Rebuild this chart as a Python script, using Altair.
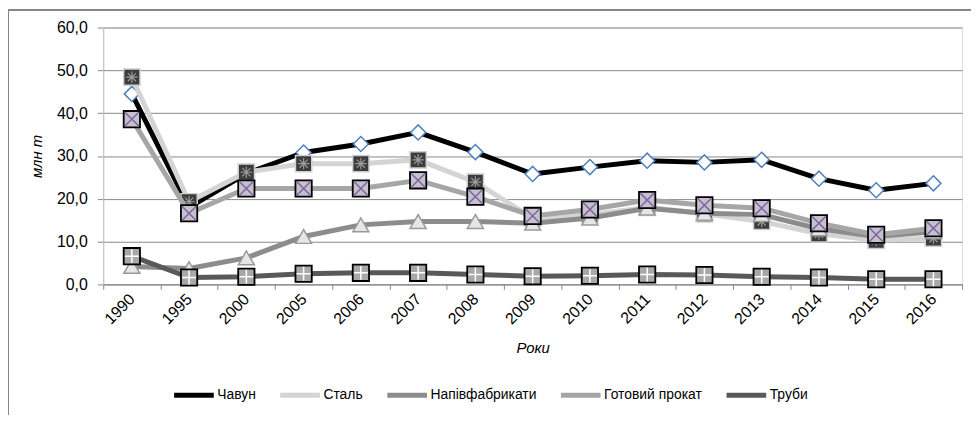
import altair as alt
import pandas as pd

years = ["1990", "1995", "2000", "2005", "2006", "2007", "2008", "2009",
         "2010", "2011", "2012", "2013", "2014", "2015", "2016"]
series_names = ["Чавун", "Сталь", "Напівфабрикати", "Готовий прокат", "Труби"]

chavun = [44.5, 18.0, 25.9, 30.8, 32.8, 35.5, 30.9, 25.8, 27.4, 28.9, 28.5, 29.1, 24.7, 22.0, 23.6]
stal = [48.4, 19.3, 26.2, 28.2, 28.2, 29.1, 23.9, 15.5, 16.3, 18.0, 16.5, 14.7, 11.8, 10.3, 10.8]
napiv = [4.2, 3.7, 6.2, 11.2, 13.9, 14.7, 14.7, 14.3, 15.5, 17.8, 16.6, 16.3, 13.0, 11.2, 12.3]
gotovyi = [38.6, 16.6, 22.4, 22.4, 22.4, 24.3, 20.5, 16.0, 17.5, 19.7, 18.5, 17.8, 14.3, 11.6, 13.1]
truby = [6.6, 1.6, 1.8, 2.5, 2.7, 2.7, 2.3, 1.9, 2.0, 2.3, 2.2, 1.8, 1.6, 1.2, 1.2]

values = [chavun, stal, napiv, gotovyi, truby]
line_colors = ["#000000", "#d4d4d4", "#8c8c8c", "#a6a6a6", "#595959"]

FONT = "Liberation Sans, Arial, sans-serif"

rows = []
for name, vals in zip(series_names, values):
    for y, v in zip(years, vals):
        rows.append({"year": y, "value": v, "series": name})
df = pd.DataFrame(rows)

x_enc = alt.X(
    "year:O",
    scale=alt.Scale(type="band", domain=years, paddingInner=0, paddingOuter=0),
    axis=alt.Axis(
        title="Роки", titleFont=FONT, titleFontSize=15, titleFontStyle="italic",
        titleFontWeight="normal", titleColor="#000", titlePadding=14,
        labelAngle=-45, labelAlign="right", labelBaseline="middle",
        labelFont=FONT, labelFontSize=16, labelColor="#000", labelPadding=7,
        tickBand="extent", tickSize=5, tickColor="#888", domainColor="#888",
        grid=False,
    ),
)
y_enc = alt.Y(
    "value:Q",
    scale=alt.Scale(domain=[0, 60], nice=False),
    axis=alt.Axis(
        title="млн т", titleFont=FONT, titleFontSize=15, titleFontStyle="italic",
        titleFontWeight="normal", titleColor="#000", titlePadding=12,
        values=[0, 10, 20, 30, 40, 50, 60],
        labelExpr="replace(format(datum.value, '.1f'), '.', ',')",
        labelFont=FONT, labelFontSize=16, labelColor="#000", labelPadding=10,
        tickSize=6, tickColor="#888", domainColor="#c0c0c0",
        grid=True, gridColor="#888", gridWidth=1,
    ),
)

color_scale = alt.Scale(domain=series_names, range=line_colors)

marker_styles = {
    "Чавун": [dict(shape="diamond", size=230, fill="#ffffff", stroke="#4f81bd", strokeWidth=1.5)],
    "Сталь": [dict(shape="square", size=270, fill="#3c3c3c", stroke="#cfcfcf", strokeWidth=1.5),
              dict(shape="M-0.5,-0.5L0.5,0.5M0.5,-0.5L-0.5,0.5M0,-0.7L0,0.7M-0.7,0L0.7,0", size=270,
                   fill=None, stroke="#9a9a9a", strokeWidth=1.2)],
    "Напівфабрикати": [dict(shape="triangle-up", size=260, fill="#e6e6e6", stroke="#9a9a9a", strokeWidth=1.5)],
    "Готовий прокат": [dict(shape="square", size=270, fill="#c4c0cc", stroke="#000000", strokeWidth=1.8),
                       dict(shape="M-0.85,-0.85L0.85,0.85M0.85,-0.85L-0.85,0.85", size=270,
                            fill=None, stroke="#8064a2", strokeWidth=1.5)],
    "Труби": [dict(shape="square", size=270, fill="#a8a8a8", stroke="#000000", strokeWidth=1.8),
              dict(shape="M0,-0.85L0,0.85M-0.85,0L0.85,0", size=270,
                   fill=None, stroke="#ffffff", strokeWidth=1.5)],
}

layers = []
for name in series_names:
    sub = df[df["series"] == name]
    base = alt.Chart(sub)
    line = base.mark_line(strokeWidth=5, strokeCap="round", strokeJoin="round").encode(
        x=x_enc, y=y_enc,
        color=alt.Color("series:N", scale=color_scale, legend=alt.Legend(
            title=None, orient="none", legendX=69, legendY=348, direction="horizontal",
            symbolType="stroke", symbolStrokeWidth=5, symbolSize=1600,
            labelFont=FONT, labelFontSize=14, labelColor="#000", labelOffset=1,
            columnPadding=14, values=series_names,
        )),
    )
    layers.append(line)
    for st in marker_styles[name]:
        kw = dict(shape=st["shape"], size=st["size"], stroke=st["stroke"],
                  strokeWidth=st["strokeWidth"], opacity=1)
        if st["fill"] is not None:
            kw["fill"] = st["fill"]
            kw["filled"] = True
        else:
            kw["filled"] = False
        pts = base.mark_point(**kw).encode(x=x_enc, y=y_enc)
        layers.append(pts)

frame_left = alt.Chart(df).mark_rule(color="#888", strokeWidth=1).encode(
    x=alt.value(-95.5), y=alt.value(-17.5), y2=alt.value(420)
)
frame_top = alt.Chart(df).mark_rule(color="#888", strokeWidth=1).encode(
    x=alt.value(-95.5), x2=alt.value(900), y=alt.value(-17.5)
)

chart = alt.layer(frame_left, frame_top, *layers).properties(
    width=866, height=259,
    autosize=alt.AutoSizeParams(type="none"),
    padding={"left": 96, "top": 18, "right": 9, "bottom": 130},
).configure_view(stroke=None).configure(background="#ffffff")

chart.save("out.html", embed_options={"renderer": "svg", "actions": False})
